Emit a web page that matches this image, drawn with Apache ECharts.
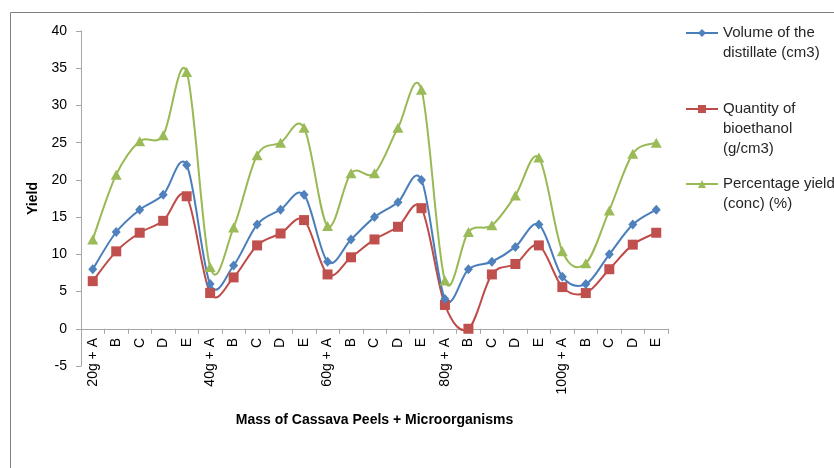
<!DOCTYPE html>
<html>
<head>
<meta charset="utf-8">
<script src="https://cdn.jsdelivr.net/npm/echarts@6/dist/echarts.min.js"></script>
<style>
html,body{margin:0;padding:0;background:#fff;}
#chart{width:834px;height:468px;}
</style>
</head>
<body>
<div id="chart"></div>
<script>
var categories = ['20g + A','B','C','D','E','40g + A','B','C','D','E','60g + A','B','C','D','E','80g + A','B','C','D','E','100g + A','B','C','D','E'];
var volumeDistillate = [8,13,16,18,22, 6,8.5,14,16,18, 9,12,15,17,20, 4,8,9,11,14, 7,6,10,14,16];
var quantityBioethanol = [6.4,10.4,12.9,14.5,17.8, 4.8,6.9,11.2,12.8,14.6, 7.3,9.6,12.0,13.7,16.2, 3.2,0,7.3,8.7,11.2, 5.6,4.8,8.0,11.3,12.9];
var percentageYield = [12,20.7,25.2,26,34.5, 8.3,13.6,23.3,25,27, 13.8,20.9,20.9,27,32.1, 6.5,13,13.9,17.9,23, 10.4,8.8,15.9,23.5,25];
var yTicks = {min:-5, max:40, interval:5};
var seriesNames = ['Volume of the distillate (cm3)','Quantity of bioethanol (g/cm3)','Percentage yield (conc) (%)'];

var font = 'Liberation Sans, Arial, sans-serif';
var lineColors = ['#4A7EBB','#BE4B48','#98B954'];
var markColors = ['#4F81BD','#C0504D','#9BBB59'];
var chart = echarts.init(document.getElementById('chart'), null, {renderer:'canvas'});

function legendFor(k, top, label){
  return {
    data:[seriesNames[k]], orient:'vertical', left:685, top:top, padding:0,
    itemWidth:32, itemHeight:10, selectedMode:false,
    formatter:function(){return label;},
    lineStyle:{color:lineColors[k], width:2, opacity:1},
    itemStyle:{color:markColors[k], opacity:1},
    textStyle:{fontFamily:font, fontSize:15, color:'#262626', lineHeight:20}
  };
}

// Excel-like (Catmull-Rom) smoothed curve drawn segment by segment via the axes' coord()
function curveSeries(values, k, z){
  var n = values.length;
  return {
    name:'curve' + k, type:'custom', coordinateSystem:'cartesian2d', clip:false, silent:true, z:z,
    data: values.map(function(v, i){ return [i, v]; }),
    renderItem:function(params, api){
      var i = params.dataIndex;
      if (i >= n - 1) return null;
      function P(j){ j = Math.max(0, Math.min(n - 1, j)); return api.coord([j, values[j]]); }
      var p0 = P(i - 1), p1 = P(i), p2 = P(i + 1), p3 = P(i + 2);
      var t = 1 / 6;
      return {
        type:'bezierCurve',
        shape:{
          x1:p1[0], y1:p1[1], x2:p2[0], y2:p2[1],
          cpx1:p1[0] + (p2[0] - p0[0]) * t, cpy1:p1[1] + (p2[1] - p0[1]) * t,
          cpx2:p2[0] - (p3[0] - p1[0]) * t, cpy2:p2[1] - (p3[1] - p1[1]) * t
        },
        style:{stroke:lineColors[k], lineWidth:2, fill:null}
      };
    }
  };
}

function markerSeries(values, k, symbol, size, z){
  return {name:seriesNames[k], type:'line', data:values, symbol:symbol, symbolSize:size, showAllSymbol:true,
    lineStyle:{color:lineColors[k], width:2, opacity:0}, itemStyle:{color:markColors[k]}, z:z};
}

chart.setOption({
  animation:false,
  backgroundColor:'#fff',
  graphic:[{type:'rect', shape:{x:10.5,y:12.5,width:900,height:500}, style:{fill:null, stroke:'#7f7f7f', lineWidth:1}, silent:true, z:-1}],
  legend:[
    legendFor(0, 3, '\nVolume of the\ndistillate (cm3)'),
    legendFor(1, 59, '\n\nQuantity of\nbioethanol\n(g/cm3)'),
    legendFor(2, 154, '\nPercentage yield\n(conc) (%)')
  ],
  grid:{left:81, right:166, top:31, bottom:102, containLabel:false},
  xAxis:{
    type:'category', data:categories, boundaryGap:true,
    name:'Mass of Cassava Peels + Microorganisms', nameLocation:'middle', nameGap:47,
    nameTextStyle:{fontFamily:font, fontSize:14, fontWeight:'bold', color:'#000'},
    axisLine:{onZero:true, lineStyle:{color:'#a6a6a6', width:1}},
    axisTick:{show:true, alignWithLabel:false, interval:0, length:5, lineStyle:{color:'#a6a6a6'}},
    axisLabel:{interval:0, rotate:90, margin:-28, fontFamily:font, fontSize:14, color:'#000'},
    splitLine:{show:false}
  },
  yAxis:{
    type:'value', min:yTicks.min, max:yTicks.max, interval:yTicks.interval,
    name:'Yield', nameLocation:'middle', nameGap:34, nameRotate:90,
    nameTextStyle:{fontFamily:font, fontSize:14, fontWeight:'bold', color:'#000'},
    axisLine:{show:true, onZero:false, lineStyle:{color:'#a6a6a6', width:1}},
    axisTick:{show:true, length:5, lineStyle:{color:'#a6a6a6'}},
    axisLabel:{margin:14, fontFamily:font, fontSize:14, color:'#000'},
    splitLine:{show:false}
  },
  series:[
    curveSeries(percentageYield, 2, 1),
    curveSeries(quantityBioethanol, 1, 2),
    curveSeries(volumeDistillate, 0, 3),
    markerSeries(volumeDistillate, 0, 'diamond', [9,10], 6),
    markerSeries(quantityBioethanol, 1, 'rect', 10, 5),
    markerSeries(percentageYield, 2, 'triangle', [11,10], 4)
  ]
});
</script>
</body>
</html>
